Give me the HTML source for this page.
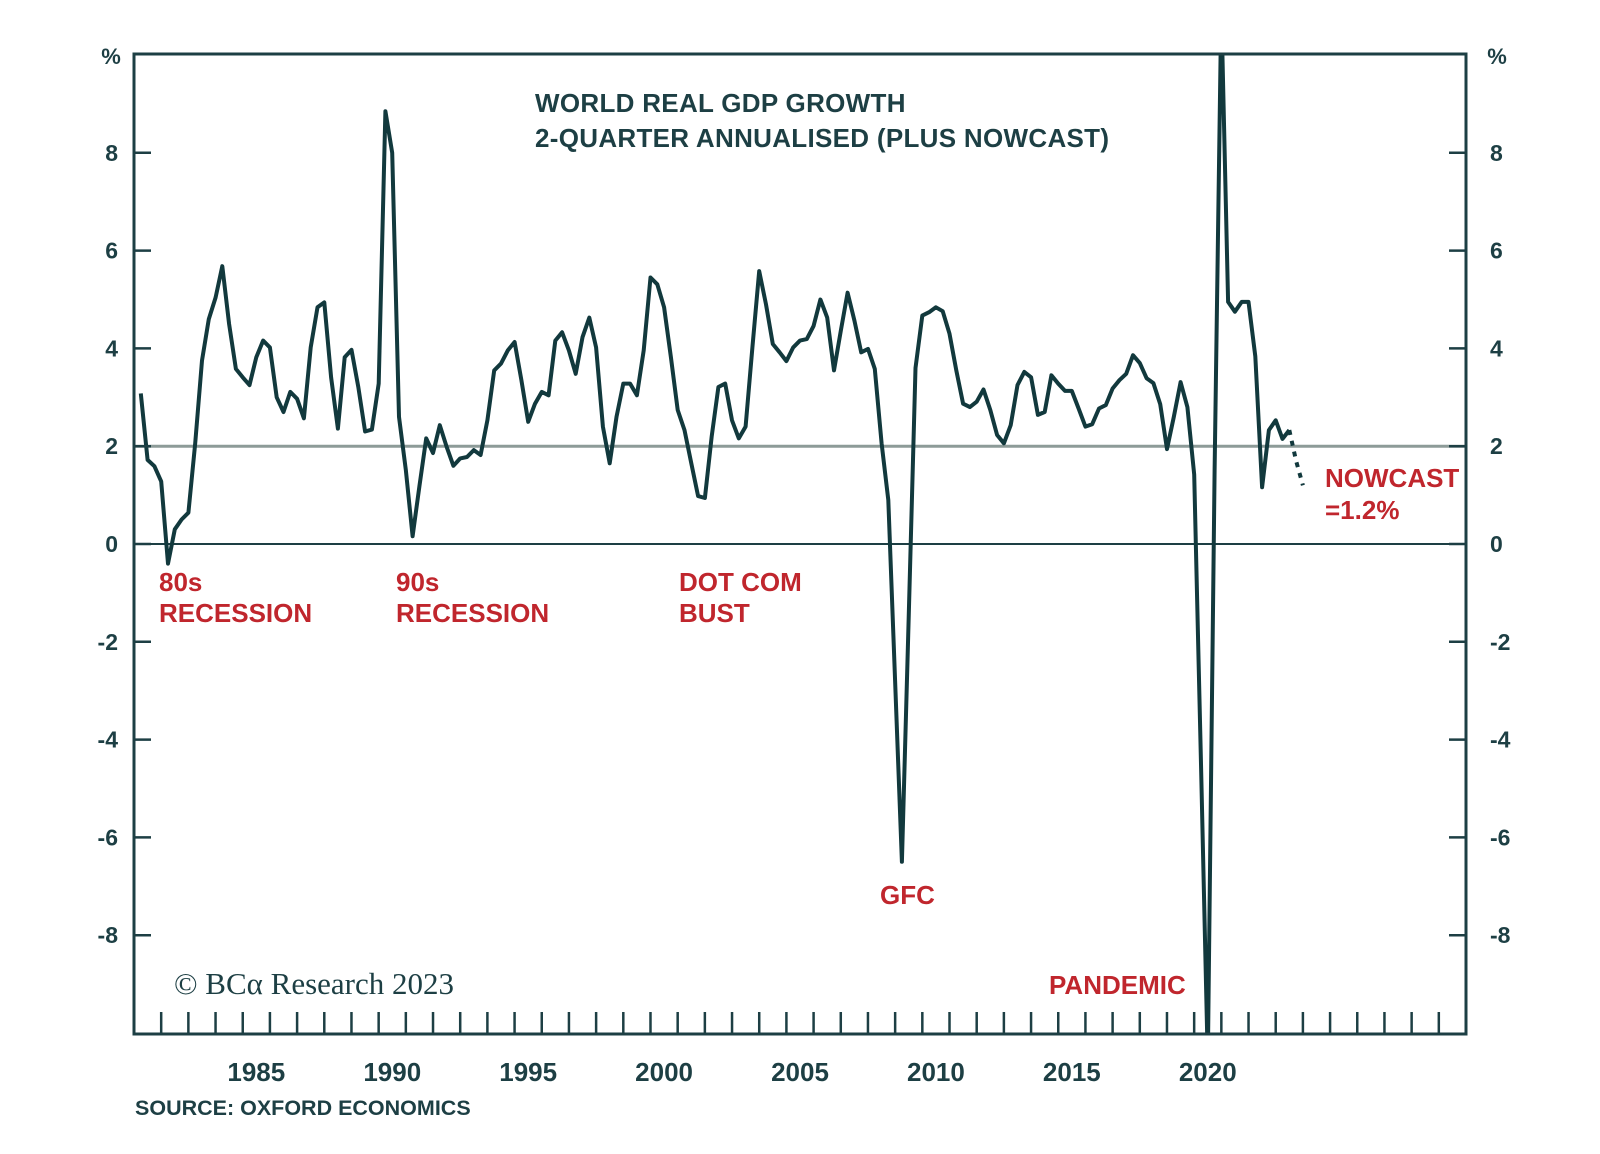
<!DOCTYPE html>
<html><head><meta charset="utf-8"><style>
html,body{margin:0;padding:0;background:#fff;}
svg{display:block;}
</style></head><body>
<svg id="chart" width="1600" height="1154" viewBox="0 0 1600 1154" xmlns="http://www.w3.org/2000/svg" font-family="Liberation Sans, sans-serif">
<defs><clipPath id="plotclip"><rect x="134" y="54" width="1332" height="980"/></clipPath></defs>
<g id="grid"></g>
<g id="series" clip-path="url(#plotclip)"></g>
<rect x="134" y="54" width="1332" height="980" fill="none" stroke="#1d3f44" stroke-width="3"/>
<g id="axes"></g>
<text x="535" y="112" font-size="26" font-weight="bold" fill="#1d3f44" letter-spacing="0.3">WORLD REAL GDP GROWTH</text>
<text x="535" y="147" font-size="26" font-weight="bold" fill="#1d3f44" letter-spacing="0.3">2-QUARTER ANNUALISED (PLUS NOWCAST)</text>
<text x="111" y="64" font-size="22" font-weight="bold" fill="#1d3f44" text-anchor="middle">%</text>
<text x="1497" y="64" font-size="22" font-weight="bold" fill="#1d3f44" text-anchor="middle">%</text>
<g fill="#c0262d" font-size="26" font-weight="bold">
<text x="159" y="591">80s<tspan x="159" dy="31">RECESSION</tspan></text>
<text x="396" y="591">90s<tspan x="396" dy="31">RECESSION</tspan></text>
<text x="679" y="591">DOT COM<tspan x="679" dy="31">BUST</tspan></text>
<text x="880" y="904">GFC</text>
<text x="1049" y="994">PANDEMIC</text>
<text x="1325" y="487">NOWCAST<tspan x="1325" dy="32">=1.2%</tspan></text>
</g>
<text x="174" y="994" font-family="Liberation Serif, serif" font-size="31" fill="#1d3f44">© BCα Research 2023</text>
<text x="135" y="1115" font-size="21.5" font-weight="bold" fill="#1d3f44">SOURCE: OXFORD ECONOMICS</text>
</svg>
<script>
const yTicks = [8, 6, 4, 2, 0, -2, -4, -6, -8];
const xLabels = [1985, 1990, 1995, 2000, 2005, 2010, 2015, 2020];
const startYear = 1981.25;
const gdpGrowth = [3.08,1.72,1.59,1.28,-0.4,0.3,0.5,0.64,2.06,3.75,4.6,5.04,5.68,4.5,3.58,3.41,3.25,3.82,4.16,4.02,
3.0,2.7,3.11,2.97,2.57,4.02,4.84,4.94,3.41,2.36,3.82,3.97,3.21,2.3,2.34,3.28,8.85,8.0,2.6,1.52,
0.16,1.18,2.16,1.86,2.43,1.99,1.6,1.75,1.78,1.92,1.82,2.53,3.55,3.69,3.96,4.13,3.35,2.5,2.87,3.11,
3.04,4.16,4.33,3.96,3.48,4.23,4.63,4.02,2.4,1.65,2.6,3.28,3.28,3.04,3.96,5.45,5.31,4.84,3.82,2.74,
2.33,1.65,0.98,0.94,2.2,3.21,3.28,2.53,2.16,2.4,4.02,5.58,4.9,4.09,3.92,3.74,4.02,4.16,4.19,4.46,
5.0,4.63,3.55,4.36,5.14,4.57,3.92,3.99,3.58,2.06,0.9,-2.8,-6.5,-1.5,3.6,4.67,4.74,4.84,4.76,4.3,
3.55,2.87,2.8,2.91,3.16,2.74,2.23,2.06,2.43,3.25,3.52,3.41,2.64,2.7,3.45,3.28,3.13,3.13,2.77,2.4,
2.45,2.77,2.84,3.18,3.35,3.48,3.86,3.7,3.39,3.29,2.86,1.94,2.6,3.31,2.8,1.42,-4.5,-10.6,1.5,11,
4.95,4.75,4.95,4.95,3.84,1.16,2.33,2.53,2.15,2.33];
const nowcast = [2.33, 1.7, 1.2];

const NS = 'http://www.w3.org/2000/svg';
const X0 = 134, X1 = 1466, T0 = 1981, T1 = 2030;
const Y0 = 544, PX = 48.9;
function xScale(t){ return X0 + (t - T0) * (X1 - X0) / (T1 - T0); }
function yScale(v){ return Y0 - v * PX; }
function mk(tag, attrs, parent){ const e = document.createElementNS(NS, tag); for (const k in attrs) e.setAttribute(k, attrs[k]); parent.appendChild(e); return e; }

const grid = document.getElementById('grid');
const axes = document.getElementById('axes');
const series = document.getElementById('series');

const twoLine = mk('line', {x1:X0, x2:X1, y1:yScale(2), y2:yScale(2), stroke:'#8d9b98', 'stroke-width':3}, grid);


const zeroLine = mk('line', {x1:X0, x2:X1, y1:yScale(0), y2:yScale(0), stroke:'#1d3f44', 'stroke-width':2}, grid);



yTicks.forEach(v => {
  const y = yScale(v);
  const tl = mk('line', {x1:X0, x2:X0+17, y1:y, y2:y, stroke:'#1d3f44', 'stroke-width':2.5}, axes);
  
  
  const tr = mk('line', {x1:X1-17, x2:X1, y1:y, y2:y, stroke:'#1d3f44', 'stroke-width':2.5}, axes);
  
  
  const l = mk('text', {x:118, y:y+8, 'font-size':23, 'font-weight':'bold', fill:'#1d3f44', 'text-anchor':'end'}, axes);
  l.textContent = String(v);
  
  
  const r = mk('text', {x:1490, y:y+8, 'font-size':23, 'font-weight':'bold', fill:'#1d3f44', 'text-anchor':'start'}, axes);
  r.textContent = String(v);
  
  
});

for (let yr = T0 + 1; yr < T1; yr++) {
  const x = xScale(yr);
  const t = mk('line', {x1:x, x2:x, y1:1034, y2:1012, stroke:'#1d3f44', 'stroke-width':2.5}, axes);
  
  
}
xLabels.forEach(yr => {
  const l = mk('text', {x:xScale(yr + 0.5), y:1081, 'font-size':26, 'font-weight':'bold', fill:'#1d3f44', 'text-anchor':'middle'}, axes);
  l.textContent = String(yr);
  
  
});

const pts = gdpGrowth.map((v, i) => xScale(startYear + i * 0.25).toFixed(1) + ',' + yScale(v).toFixed(1));
const line = mk('polyline', {points: pts.join(' '), fill:'none', stroke:'#12393d', 'stroke-width':4, 'stroke-linejoin':'round'}, series);



const nStart = gdpGrowth.length - 1;
const npts = nowcast.map((v, i) => xScale(startYear + (nStart + i) * 0.25).toFixed(1) + ',' + yScale(v).toFixed(1));
const nl = mk('polyline', {points: npts.join(' '), fill:'none', stroke:'#12393d', 'stroke-width':4, 'stroke-dasharray':'5 6'}, series);


</script>
</body></html>
